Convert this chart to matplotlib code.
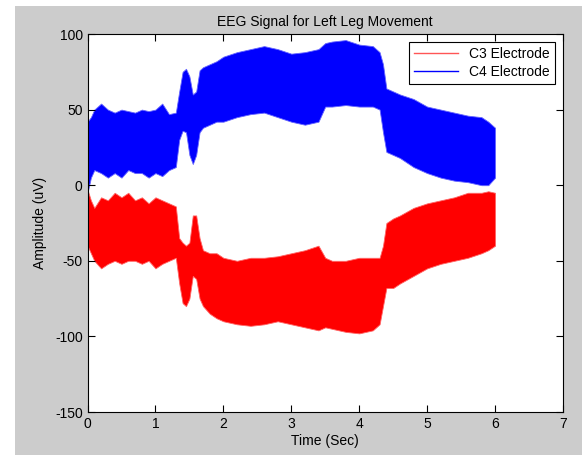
import matplotlib
matplotlib.use("Agg")
import matplotlib.pyplot as plt
from matplotlib.patches import Rectangle

# Time knots (s) and envelopes (uV)
t = [0, 0.05, 0.1, 0.2, 0.3, 0.4, 0.5, 0.6, 0.7, 0.8, 0.9, 1.0, 1.1, 1.2, 1.3,
     1.35, 1.4, 1.45, 1.5, 1.55, 1.6, 1.65, 1.7, 1.8, 1.9, 2.0, 2.2, 2.4, 2.6,
     2.8, 3.0, 3.2, 3.4, 3.5, 3.6, 3.8, 4.0, 4.2, 4.3, 4.35, 4.4, 4.5, 4.6,
     4.8, 5.0, 5.2, 5.4, 5.6, 5.8, 5.9, 6.0]

c4_upper = [42, 45, 50, 54, 50, 48, 50, 49, 48, 50, 49, 50, 54, 47, 48,
            62, 75, 77, 72, 60, 62, 76, 78, 80, 82, 85, 88, 90, 92,
            90, 87, 88, 90, 94, 95, 96, 93, 92, 88, 80, 64, 62, 60,
            57, 52, 50, 48, 46, 45, 42, 38]
c4_lower = [-5, 5, 10, 8, 5, 8, 5, 10, 8, 8, 5, 8, 6, 10, 12,
            30, 36, 35, 20, 14, 20, 35, 38, 40, 42, 42, 45, 47, 48,
            45, 42, 40, 42, 52, 52, 53, 52, 52, 50, 35, 22, 20, 18,
            12, 8, 5, 3, 2, 0, 0, 5]
c3_upper = [-3, -10, -15, -8, -10, -5, -8, -5, -10, -8, -12, -8, -10, -12, -14,
            -35, -38, -40, -38, -20, -20, -35, -43, -45, -45, -48, -50, -48, -48,
            -47, -45, -43, -40, -48, -50, -50, -48, -48, -48, -40, -25, -22, -20,
            -15, -12, -10, -8, -5, -5, -4, -5]
c3_lower = [-40, -45, -50, -55, -52, -50, -52, -50, -50, -52, -50, -55, -52, -50, -48,
            -65, -78, -80, -75, -60, -62, -75, -80, -85, -88, -90, -92, -93, -92,
            -90, -92, -94, -96, -94, -95, -97, -98, -96, -92, -80, -68, -68, -65,
            -60, -55, -52, -50, -48, -45, -43, -40]

labels = ["C3 Electrode", "C4 Electrode"]
xticks = [0, 1, 2, 3, 4, 5, 6, 7]
yticks = [-150, -100, -50, 0, 50, 100]

plt.rcParams['font.family'] = ['Liberation Sans', 'DejaVu Sans']
plt.rcParams['axes.unicode_minus'] = False

fig = plt.figure(figsize=(5.82, 4.55), dpi=100)
fig.patch.set_facecolor('#cccccc')
# white strips on the left and top edges of the reference
fig.patches.append(Rectangle((0, 0), 15 / 582, 1, transform=fig.transFigure,
                             facecolor='white', edgecolor='none', zorder=-1))
fig.patches.append(Rectangle((0, 1 - 6 / 455), 1, 6 / 455, transform=fig.transFigure,
                             facecolor='white', edgecolor='none', zorder=-1))

ax = fig.add_axes([87.5 / 582, 43 / 455, (563 - 87.5) / 582, (412 - 34) / 455])
ax.set_facecolor('white')

ax.fill_between(t, c3_lower, c3_upper, color='#ff0000', linewidth=0.6,
                edgecolor='#ff6666')
ax.fill_between(t, c4_lower, c4_upper, color='#0000ff', linewidth=0.6,
                edgecolor='#6666ff')
ax.plot([], [], color='#ff5555', lw=1.0, label=labels[0])
ax.plot([], [], color='#0000ff', lw=1.0, label=labels[1])

ax.set_xlim(0, 7)
ax.set_ylim(-150, 100)
ax.set_xticks(xticks)
ax.set_yticks(yticks)
ax.tick_params(direction='in', top=True, right=True, length=5, width=0.8,
               labelsize=10, colors='black')
for s in ax.spines.values():
    s.set_linewidth(0.8)

ax.set_title("EEG Signal for Left Leg Movement", fontsize=10, pad=6)
ax.set_xlabel("Time (Sec)", fontsize=10, labelpad=2)
ax.set_ylabel("Amplitude (uV)", fontsize=10, labelpad=6)

leg = ax.legend(loc='upper right', fontsize=10, fancybox=False, framealpha=1,
                edgecolor='black', handlelength=3.2, borderaxespad=0.6,
                borderpad=0.35, labelspacing=0.25)
leg.get_frame().set_linewidth(0.8)

fig.savefig("out.png", dpi=100, facecolor=fig.get_facecolor())
